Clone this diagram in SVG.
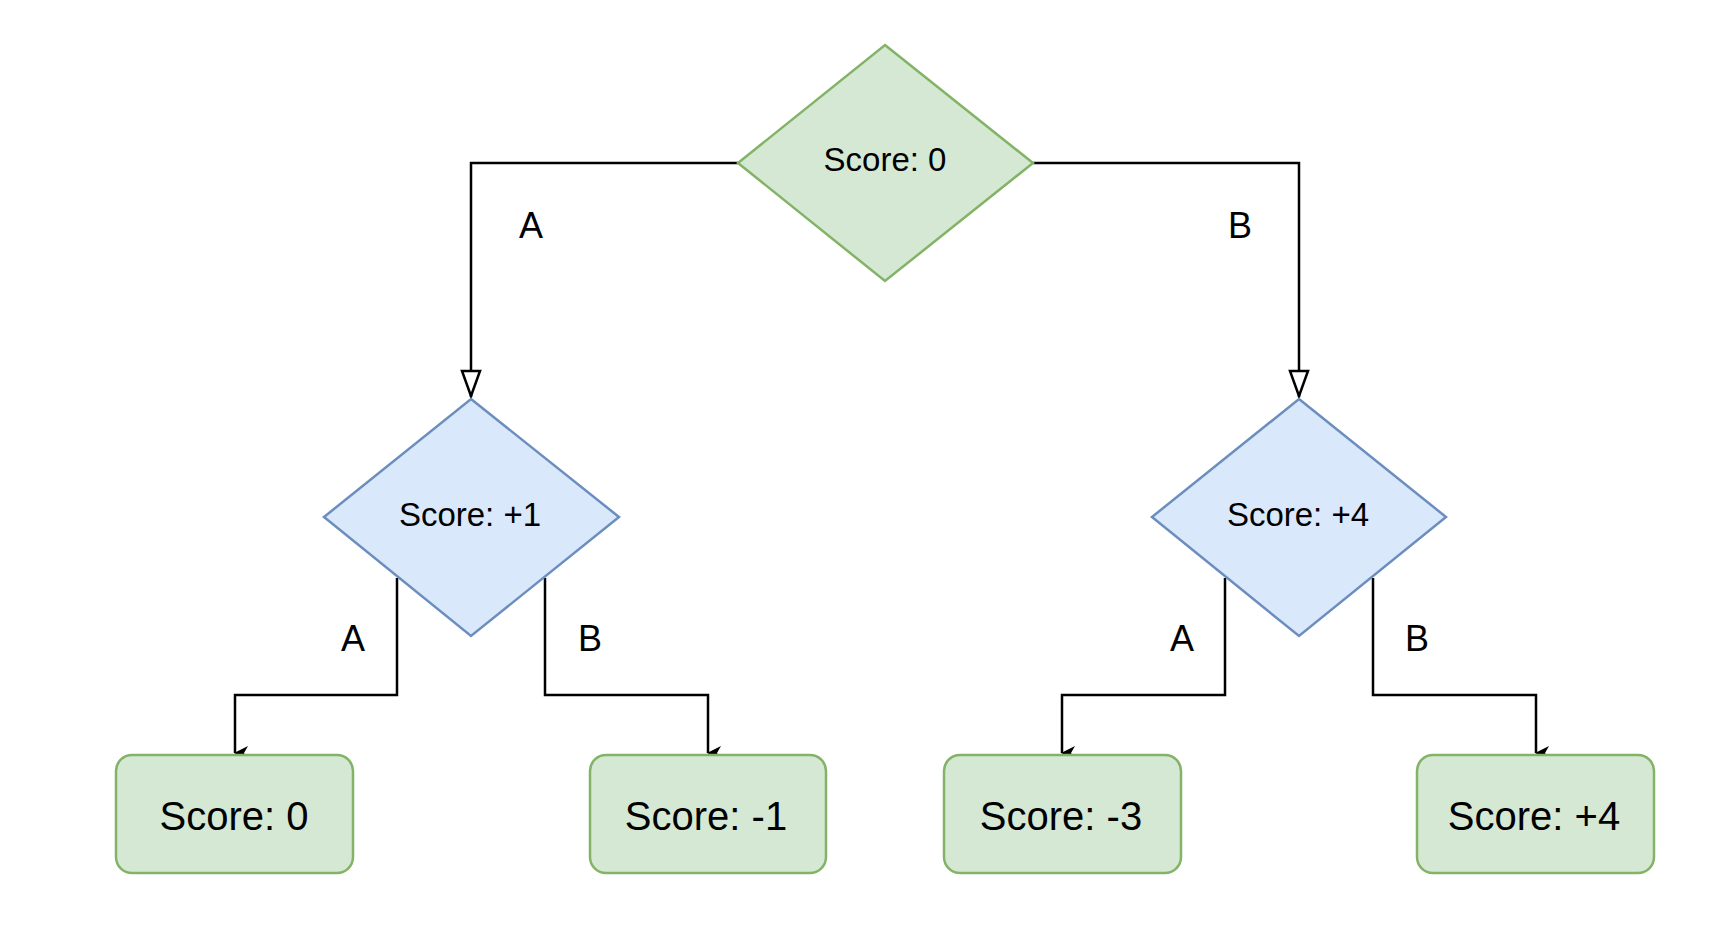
<svg xmlns="http://www.w3.org/2000/svg" width="1726" height="940" viewBox="0 0 1726 940">
<defs>
<style>
.g{fill:#d5e8d4;stroke:#82b366;stroke-width:2.5}
.b{fill:#dae8fc;stroke:#6c8ebf;stroke-width:2.5}
.t{font-family:"Liberation Sans",Arial,sans-serif;fill:#000;text-anchor:middle;dominant-baseline:central}
.c{fill:none;stroke:#000;stroke-width:2.5}
</style>
<marker id="open" markerWidth="14" markerHeight="14" refX="7" refY="13" orient="auto" markerUnits="userSpaceOnUse" viewBox="0 0 14 14"><path d="M1,1 L13,1 L7,13 Z" fill="#fff" stroke="#000" stroke-width="2"/></marker>
<marker id="fill" markerWidth="14" markerHeight="14" refX="7" refY="13" orient="auto" markerUnits="userSpaceOnUse" viewBox="0 0 14 14"><path d="M0,0 L7,4 L14,0 L7,14 Z" fill="#000"/></marker>
</defs>
<rect width="1726" height="940" fill="#fff"/>
<g id="connectors">
<path class="c" d="M738,163 H471 V397" marker-end="url(#open)" style="marker-end:none"/>
<path class="c" d="M1033,163 H1299 V397" style="marker-end:none"/>
<path d="M462,371 L480,371 L471,396 Z" fill="#fff" stroke="#000" stroke-width="2.5"/>
<path d="M1290,371 L1308,371 L1299,396 Z" fill="#fff" stroke="#000" stroke-width="2.5"/>
<path class="c" d="M397,578 V695 H235 V753" marker-end="url(#fill)"/>
<path class="c" d="M545,578 V695 H708 V753" marker-end="url(#fill)"/>
<path class="c" d="M1225,578 V695 H1062 V753" marker-end="url(#fill)"/>
<path class="c" d="M1373,578 V695 H1536 V753" marker-end="url(#fill)"/>
<text class="t" x="531" y="225" font-size="36">A</text>
<text class="t" x="1240" y="225" font-size="36">B</text>
<text class="t" x="353" y="638" font-size="36">A</text>
<text class="t" x="590" y="638" font-size="36">B</text>
<text class="t" x="1182" y="638" font-size="36">A</text>
<text class="t" x="1417" y="638" font-size="36">B</text>
</g>
<g id="root"><path class="g" d="M885,45 L1033,163 L885,281 L738,163 Z"/><text class="t" x="885" y="159" font-size="33">Score: 0</text></g>
<g id="left"><path class="b" d="M471,399 L619,517 L471,636 L324,517 Z"/><text class="t" x="470" y="514" font-size="33">Score: +1</text></g>
<g id="right"><path class="b" d="M1299,399 L1446,517 L1299,636 L1152,517 Z"/><text class="t" x="1298" y="514" font-size="33">Score: +4</text></g>
<g id="leaf1"><rect class="g" x="116" y="755" width="237" height="118" rx="16"/><text class="t" x="234" y="816" font-size="40">Score: 0</text></g>
<g id="leaf2"><rect class="g" x="590" y="755" width="236" height="118" rx="16"/><text class="t" x="706" y="816" font-size="40">Score: -1</text></g>
<g id="leaf3"><rect class="g" x="944" y="755" width="237" height="118" rx="16"/><text class="t" x="1061" y="816" font-size="40">Score: -3</text></g>
<g id="leaf4"><rect class="g" x="1417" y="755" width="237" height="118" rx="16"/><text class="t" x="1534" y="816" font-size="40">Score: +4</text></g>
</svg>
